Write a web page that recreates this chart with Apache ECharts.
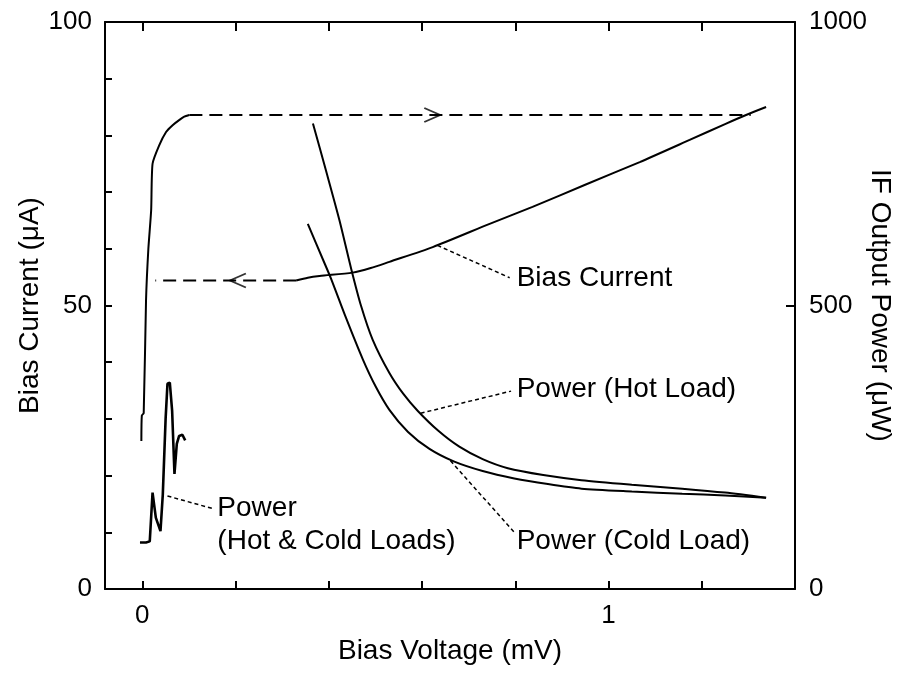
<!DOCTYPE html>
<html>
<head>
<meta charset="utf-8">
<script src="https://cdn.jsdelivr.net/npm/echarts@6/dist/echarts.min.js"></script>
<style>
html,body{margin:0;padding:0;background:#fff;}
#chart{width:902px;height:674px;}
</style>
</head>
<body>
<div id="chart"></div>
<script>
// ---------- data ----------
// Bias current, sweep up (V in mV, I in uA)
const biasUp = [[-0.002,26.1],[-0.001,30.6],[0.003,31.0],[0.008,50.9],[0.013,60.0],[0.019,66.8],[0.022,75.0],[0.036,78.2],[0.051,80.6],[0.065,81.8],[0.079,82.7],[0.090,83.3],[0.101,83.6]];
// Jump (dashed) from the supercurrent branch up to the IV curve
const biasJumpUp = [[0.101,83.6],[1.305,83.6]];
// Jump (dashed) back down to the zero-voltage branch
const biasJumpDown = [[0.330,54.4],[0.028,54.4]];
// Bias current along the resistive branch
const biasCurve = [[0.330,54.4],[0.355,54.9],[0.380,55.2],[0.451,55.8],[0.490,56.6],[0.530,57.7],[0.623,60.3],[0.745,64.4],[0.837,67.4],[0.950,71.3],[1.067,75.3],[1.174,79.2],[1.250,82.0],[1.295,83.6],[1.338,85.0]];
// Arrow heads on the dashed jumps
const arrowsRight = [[0.622,83.6]];
const arrowsLeft = [[0.205,54.4]];
// IF output power (uW)
const powerHot = [[0.366,821],[0.395,735],[0.423,650],[0.448,565],[0.469,500],[0.494,440],[0.530,381],[0.560,344],[0.591,314],[0.635,279],[0.680,251],[0.730,229],[0.784,213],[0.860,201],[0.942,192],[1.050,184],[1.158,177],[1.250,170],[1.338,161]];
const powerCold = [[0.355,644],[0.387,582],[0.405,547],[0.437,478],[0.473,405],[0.500,358],[0.530,316],[0.570,277],[0.616,247],[0.668,225],[0.730,208],[0.798,195],[0.870,185],[0.942,177],[1.050,172],[1.158,168],[1.250,165],[1.338,161]];
const powerLowV = [[-0.005,82],[0.008,82],[0.016,84],[0.022,170],[0.029,126],[0.039,102],[0.044,167],[0.050,300],[0.054,362],[0.059,364],[0.064,314],[0.069,203],[0.074,256],[0.079,270],[0.086,272],[0.092,262]];
// Annotations: leader line from -> to, text anchored at textAt (left-middle)
const annotations = [
  {text:'Bias Current', axis:0, from:[0.633,60.6], to:[0.788,54.9], textAt:[0.803,54.8]},
  {text:'Power (Hot Load)', axis:1, from:[0.597,310], to:[0.791,349], textAt:[0.803,353]},
  {text:'Power (Cold Load)', axis:1, from:[0.661,226], to:[0.798,100], textAt:[0.803,85]},
  {text:'Power\n(Hot & Cold Loads)', axis:1, from:[0.054,164], to:[0.155,141], textAt:[0.161,113]}
];
// Axis ticks / labels
const xTicks = [0,0.2,0.4,0.6,0.8,1.0,1.2];
const xLabels = [0,1];
const yLeftLabels = [0,50,100];
const yRightTicks = [0,500,1000];
const yRightLabels = [0,500,1000];

// ---------- chart ----------
const FONT = '"Liberation Sans", Arial, Helvetica, sans-serif';
const chart = echarts.init(document.getElementById('chart'), null, {renderer:'canvas'});
const axisLine = {show:true, onZero:false, lineStyle:{color:'#000', width:2}};
const solid = (data, yIdx) => ({type:'line', data, xAxisIndex:0, yAxisIndex:yIdx, showSymbol:false, symbol:'none', smooth:0.25,
  lineStyle:{color:'#000', width:2}, silent:true, z:3});
const dashed = (data) => ({type:'line', data, xAxisIndex:0, yAxisIndex:0, showSymbol:false, symbol:'none',
  lineStyle:{color:'#000', width:2, type:[13,7]}, silent:true, z:3});

const series = [
  Object.assign(solid(biasUp,0), {smooth:0.2}),
  dashed(biasJumpUp),
  dashed(biasJumpDown),
  solid(biasCurve,0),
  solid(powerHot,1),
  solid(powerCold,1),
  Object.assign(solid(powerLowV,1), {smooth:false, lineStyle:{color:'#000', width:2.6}}),
  {type:'scatter', xAxisIndex:0, yAxisIndex:0, data:arrowsRight, symbol:'path://M0,0L10,6L0,12', symbolSize:[16,14], symbolKeepAspect:false,
   itemStyle:{color:'rgba(0,0,0,0)', borderColor:'#000', borderWidth:1.8}, silent:true, z:4},
  {type:'scatter', xAxisIndex:0, yAxisIndex:0, data:arrowsLeft, symbol:'path://M10,0L0,6L10,12', symbolSize:[16,14], symbolKeepAspect:false,
   itemStyle:{color:'rgba(0,0,0,0)', borderColor:'#000', borderWidth:1.8}, silent:true, z:4}
];
annotations.forEach(a => {
  series.push({type:'line', xAxisIndex:0, yAxisIndex:a.axis, data:[a.from, a.to], showSymbol:false, symbol:'none',
    lineStyle:{color:'#000', width:1.5, type:[4,3]}, silent:true, z:2});
  series.push({type:'scatter', xAxisIndex:0, yAxisIndex:a.axis, data:[a.textAt], symbolSize:0, silent:true, z:5,
    label:{show:true, position:'right', distance:0, formatter:a.text, color:'#000', opacity:1, fontFamily:FONT, fontSize:28,
      align:'left', verticalAlign:'middle', lineHeight:33}});
});

chart.setOption({
  animation:false,
  backgroundColor:'#fff',
  grid:{left:105, right:107, top:22, bottom:85, containLabel:false, outerBoundsMode:'none'},
  xAxis:[
    {type:'value', position:'bottom', min:-0.08, max:1.4, splitLine:{show:false}, axisLine,
     axisTick:{show:true, inside:true, length:8, customValues:xTicks, lineStyle:{color:'#000', width:2}},
     axisLabel:{show:true, customValues:xLabels, margin:14, color:'#000', fontSize:26, fontFamily:FONT, formatter:v=>String(v)},
     name:'Bias Voltage (mV)', nameLocation:'middle', nameGap:48, nameMoveOverlap:false, nameTextStyle:{color:'#000', fontSize:28, fontFamily:FONT}},
    {type:'value', position:'top', min:-0.08, max:1.4, splitLine:{show:false}, axisLine,
     axisTick:{show:true, inside:true, length:9, customValues:xTicks, lineStyle:{color:'#000', width:2}},
     axisLabel:{show:false}}
  ],
  yAxis:[
    {type:'value', position:'left', min:0, max:100, interval:10, splitLine:{show:false}, axisLine,
     axisTick:{show:true, inside:true, length:7, lineStyle:{color:'#000', width:2}},
     axisLabel:{show:true, customValues:yLeftLabels, margin:13, color:'#000', fontSize:26, fontFamily:FONT, formatter:v=>String(v)},
     name:'Bias Current (\u03bcA)', nameLocation:'middle', nameGap:61, nameRotate:90, nameMoveOverlap:false, nameTextStyle:{color:'#000', fontSize:28, fontFamily:FONT}},
    {type:'value', position:'right', min:0, max:1000, splitLine:{show:false}, axisLine,
     axisTick:{show:true, inside:true, length:9, customValues:yRightTicks, lineStyle:{color:'#000', width:2}},
     axisLabel:{show:true, customValues:yRightLabels, margin:14, color:'#000', fontSize:26, fontFamily:FONT, formatter:v=>String(v)},
     name:'IF Output Power (\u03bcW)', nameLocation:'middle', nameGap:71, nameRotate:-90, nameMoveOverlap:false, nameTextStyle:{color:'#000', fontSize:28, fontFamily:FONT}}
  ],
  series
});
</script>
</body>
</html>
